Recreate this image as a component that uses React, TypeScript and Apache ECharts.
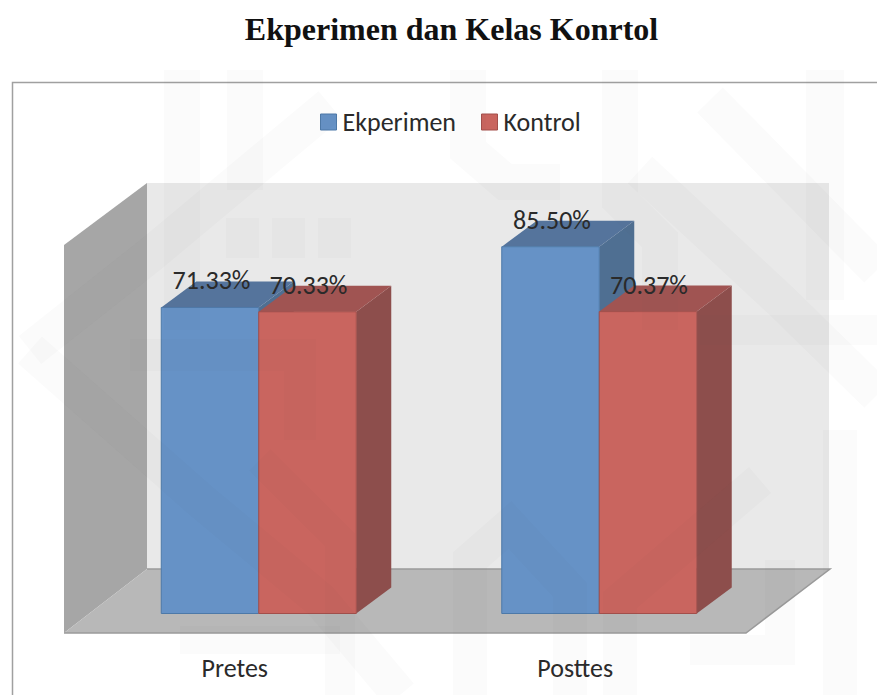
import React, { useEffect, useRef } from "react";
import * as echarts from "echarts";

const categories = ["Pretes", "Posttes"];
const ekperimen = [71.33, 85.5];
const kontrol = [70.33, 70.37];
const seriesNames = ["Ekperimen", "Kontrol"];
const titleText = "Ekperimen dan Kelas Konrtol";

const BAR_W = 97.5;
const DX = 35;
const DY = -26;
const CAT_SHIFT = 24;

const palette = [
  { front: "#6692c6", top: "#55749c", side: "#4f6f92", edge: "#4d79a8" },
  { front: "#c9655f", top: "#a05452", side: "#8d4e4c", edge: "#a34f4b" },
];

const wm = "rgba(95,95,75,0.022)";
const wmStrokes: [number, number[][]][] = [
  [36, [[182, 70], [182, 330]]],
  [36, [[245, 70], [245, 190]]],
  [36, [[468, 70], [468, 150], [505, 182], [560, 182]]],
  [36, [[620, 70], [620, 200], [660, 240], [660, 330]]],
  [38, [[825, 70], [825, 300]]],
  [36, [[710, 100], [877, 270]]],
  [36, [[640, 170], [780, 300], [877, 395]]],
  [30, [[700, 330], [877, 330]]],
  [36, [[30, 350], [150, 255], [300, 130], [330, 105]]],
  [36, [[30, 350], [200, 500], [320, 600], [400, 695]]],
  [32, [[130, 355], [300, 355], [300, 440]]],
  [30, [[260, 460], [340, 540], [340, 695]]],
  [34, [[470, 695], [470, 560], [510, 525], [570, 590], [570, 695]]],
  [34, [[620, 695], [620, 600], [760, 480]]],
  [34, [[840, 695], [840, 430]]],
  [30, [[690, 650], [780, 650], [780, 560]]],
  [28, [[180, 640], [340, 640]]],
];
const wmSquares = [
  [226, 218, 33, 40],
  [272, 218, 33, 40],
  [318, 218, 33, 40],
];

function bar3d(seriesIndex: number) {
  const colors = palette[seriesIndex];
  return (_params: any, api: any) => {
    const cat = api.value(0);
    const val = api.value(1);
    const [cx, yTop] = api.coord([cat, val]);
    const [, yBase] = api.coord([cat, 0]);
    const boundary = cx + CAT_SHIFT;
    const x0 = seriesIndex === 0 ? boundary - BAR_W : boundary;
    const x1 = x0 + BAR_W;
    return {
      type: "group",
      children: [
        {
          type: "polygon",
          shape: { points: [[x1, yTop], [x1 + DX, yTop + DY], [x1 + DX, yBase + DY], [x1, yBase]] },
          style: { fill: colors.side },
        },
        {
          type: "polygon",
          shape: { points: [[x0, yTop], [x0 + DX, yTop + DY], [x1 + DX, yTop + DY], [x1, yTop]] },
          style: { fill: colors.top },
        },
        {
          type: "rect",
          shape: { x: x0, y: yTop, width: BAR_W, height: yBase - yTop },
          style: { fill: colors.front, stroke: colors.edge, lineWidth: 1 },
        },
      ],
    };
  };
}

function barLabel(seriesIndex: number) {
  return (_params: any, api: any) => {
    const cat = api.value(0);
    const val = api.value(1);
    const [cx, yTop] = api.coord([cat, val]);
    const boundary = cx + CAT_SHIFT;
    const x = seriesIndex === 0 ? boundary - BAR_W / 2 + 1.5 : boundary + BAR_W / 2 + 1;
    return {
      type: "text",
      x,
      y: yTop - 27,
      style: {
        text: val.toFixed(2) + "%",
        fontFamily: "Carlito, Lato, sans-serif",
        fontSize: 26,
        fill: "#2a2a2a",
        align: "center",
        verticalAlign: "middle",
      },
    };
  };
}

export default function App() {
  const ref = useRef<HTMLDivElement>(null);
  useEffect(() => {
    const chart = echarts.init(ref.current!, null, { renderer: "svg" });
    const toData = (vals: number[]) => vals.map((v, i) => [i, v]);
    chart.setOption({
      animation: false,
      backgroundColor: "#ffffff",
      title: {
        text: titleText,
        left: 446.5,
        top: 8,
        textAlign: "center",
        textStyle: { fontFamily: "Liberation Serif", fontWeight: "bold", fontSize: 32, color: "#111111" },
      },
      legend: {
        left: 315,
        top: 104,
        itemWidth: 16,
        itemHeight: 16,
        itemGap: 25,
        textStyle: { fontFamily: "Carlito, Lato, sans-serif", fontSize: 26, color: "#2a2a2a", padding: [0, 0, 0, 1] },
        data: seriesNames.map((name, i) => ({
          name,
          icon: "rect",
          itemStyle: { color: palette[i].front, borderColor: palette[i].edge, borderWidth: 1 },
        })),
      },
      grid: { left: 64.5, width: 681, top: 184.5, height: 429 },
      xAxis: {
        type: "category",
        data: categories,
        axisLine: { show: false },
        axisTick: { show: false },
        axisLabel: { margin: 41, fontFamily: "Carlito, Lato, sans-serif", fontSize: 26, color: "#2a2a2a" },
      },
      yAxis: { type: "value", min: 0, max: 100, show: false, splitLine: { show: false } },
      graphic: [
        { type: "polyline", z: 0, shape: { points: [[12.5, 695], [12.5, 82.5], [877, 82.5]] }, style: { stroke: "#a0a0a0", lineWidth: 1.5, fill: "none" } },
        { type: "polygon", z: 0, shape: { points: [[147, 183], [829, 183], [829, 569], [147, 569]] }, style: { fill: "#e9e9e9" } },
        { type: "polygon", z: 0, shape: { points: [[64, 245], [147, 183], [147, 569], [64, 633]] }, style: { fill: "#a6a6a6" } },
        { type: "polygon", z: 0, shape: { points: [[147, 569], [830, 569], [746, 633], [64, 633]] }, style: { fill: "#b8b8b8" } },
        { type: "polyline", z: 0, shape: { points: [[147, 569], [830, 569], [746, 633], [64, 633]] }, style: { stroke: "#9a9a9a", lineWidth: 1.5, fill: "none" } },
        ...wmStrokes.map(([w, pts]) => ({
          type: "polyline",
          z: 50,
          silent: true,
          shape: { points: pts },
          style: { stroke: wm, lineWidth: w, fill: "none" },
        })),
        ...wmSquares.map(([x, y, width, height]) => ({
          type: "rect",
          z: 50,
          silent: true,
          shape: { x, y, width, height },
          style: { fill: wm },
        })),
      ],
      series: [
        { type: "custom", name: seriesNames[0], renderItem: bar3d(0), data: toData(ekperimen), encode: { x: 0, y: 1 }, z: 2 },
        { type: "custom", name: seriesNames[1], renderItem: bar3d(1), data: toData(kontrol), encode: { x: 0, y: 1 }, z: 3 },
        { type: "custom", name: "label-a", renderItem: barLabel(0), data: toData(ekperimen), encode: { x: 0, y: 1 }, z: 10 },
        { type: "custom", name: "label-b", renderItem: barLabel(1), data: toData(kontrol), encode: { x: 0, y: 1 }, z: 10 },
      ],
    });
    return () => chart.dispose();
  }, []);
  return <div ref={ref} style={{ position: "absolute", left: 0, top: 0, width: 877, height: 695 }} />;
}
